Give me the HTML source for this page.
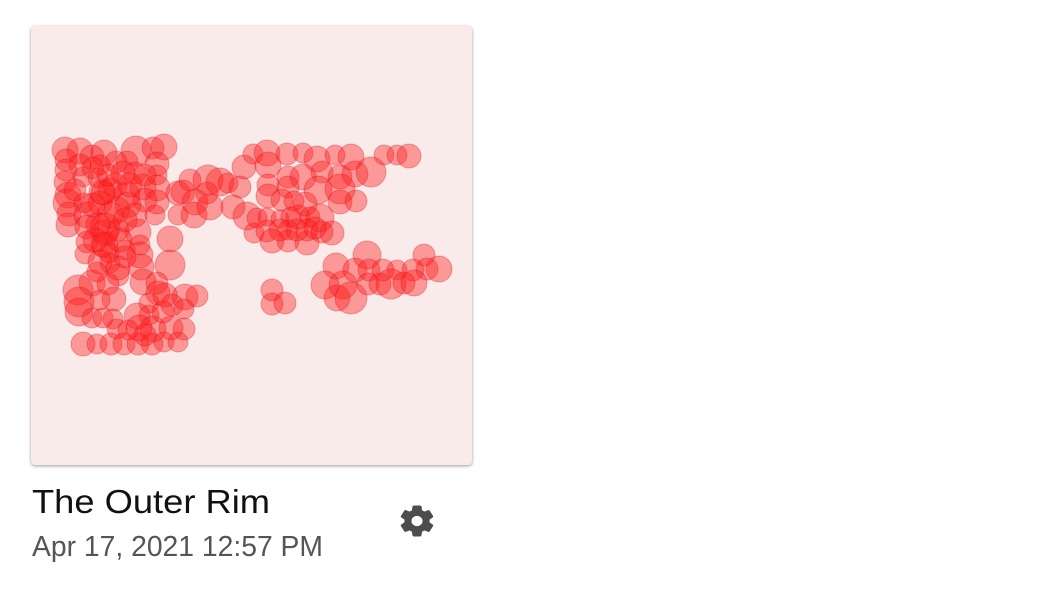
<!DOCTYPE html>
<html>
<head>
<meta charset="utf-8">
<style>
html,body{margin:0;padding:0;background:#fff;width:1056px;height:616px;overflow:hidden}
#card{position:absolute;left:31px;top:26px;width:441px;height:439px;background:#f9ebe9;border-radius:4px;box-shadow:0 1px 3px rgba(0,0,0,.4)}
#stage{position:absolute;left:0;top:0}
text{font-family:"Liberation Sans",sans-serif}
</style>
</head>
<body>
<div id="card"></div>
<svg id="stage" width="1056" height="616" viewBox="0 0 1056 616">
  <g id="bubbles"></g>
  <text x="32" y="513" font-size="33" font-weight="400" fill="#111" textLength="238" lengthAdjust="spacingAndGlyphs">The Outer Rim</text>
  <text x="32" y="556" font-size="29" fill="#555" textLength="291" lengthAdjust="spacingAndGlyphs">Apr 17, 2021 12:57 PM</text>
  <g transform="translate(417 521) scale(1.68 1.56) translate(-12 -12)">
    <path fill="#4d4d4d" stroke="#4d4d4d" stroke-width="0.6" d="M19.14 12.94c.04-.3.06-.61.06-.94 0-.32-.02-.64-.07-.94l2.03-1.58c.18-.14.23-.41.12-.61l-1.92-3.32c-.12-.22-.37-.29-.59-.22l-2.39.96c-.5-.38-1.03-.7-1.62-.94l-.36-2.54c-.04-.24-.24-.41-.48-.41h-3.84c-.24 0-.43.17-.47.41l-.36 2.54c-.59.24-1.13.57-1.62.94l-2.39-.96c-.22-.08-.47 0-.59.22L2.74 8.87c-.12.21-.08.47.12.61l2.03 1.58c-.05.3-.09.63-.09.94s.02.64.07.94l-2.03 1.58c-.18.14-.23.41-.12.61l1.92 3.32c.12.22.37.29.59.22l2.39-.96c.5.38 1.03.7 1.62.94l.36 2.54c.05.24.24.41.48.41h3.84c.24 0 .44-.17.47-.41l.36-2.54c.59-.24 1.13-.56 1.62-.94l2.39.96c.22.08.47 0 .59-.22l1.92-3.32c.12-.22.07-.47-.12-.61l-2.01-1.58zM12 15.6c-1.98 0-3.6-1.62-3.6-3.6s1.62-3.6 3.6-3.6 3.6 1.62 3.6 3.6-1.62 3.6-3.6 3.6z"/>
  </g>
</svg>
<script>
var longitudes = [34,49,61,73,105,122,133,126,126,85,96,35,35,34,37,36,38,37,52,67,71,62,92,104,96,112,126,114,126,124,53,69,86,97,56,74,56,87,107,109,56,72,94,54,78,139,147,147,159,152,164,163,177,179,176,189,197,209,202,216,213,139,79,87,109,110,112,126,127,61,77,47,48,48,83,61,72,82,118,118,106,108,122,86,140,141,154,166,153,153,52,66,80,93,107,121,133,147,222,236,256,272,286,304,320,353,366,378,237,257,272,291,309,324,340,237,257,287,309,237,251,263,274,309,325,226,236,249,260,267,279,289,223,236,257,249,241,257,276,266,276,291,301,284,336,305,393,324,338,352,366,382,396,408,294,312,306,320,337,349,360,373,383,241,241,254,74,74,69,94,62,79,72,84,99,104,94,79,67,89,64,77,114,69,44,49,87,66,132,97,134,114,69];
var latitudes = [124,125,131,127,125,122,121,138,149,136,136,134,144,156,169,177,188,199,151,152,166,142,147,147,169,161,162,174,176,189,177,177,184,179,189,202,201,204,206,219,216,219,224,228,227,213,167,189,154,166,176,189,154,181,167,156,157,161,181,190,141,239,237,249,229,241,256,257,267,257,258,264,276,286,273,292,292,293,277,289,290,302,303,303,302,279,271,270,283,303,318,318,318,318,318,318,316,316,128,127,128,127,133,129,131,129,129,130,139,151,151,146,151,148,146,159,161,164,163,170,174,175,178,176,175,192,191,193,191,191,191,192,207,205,204,204,215,215,217,204,204,206,207,202,229,240,229,244,244,244,244,244,243,243,259,259,272,272,258,258,258,257,257,264,278,277,207,219,236,231,179,164,167,159,159,189,194,189,199,214,214,149,149,139,164,139,242,246,286,304,269,309,274];
var magnitudes = [13,13,12,13,15,11,13,12,10,11,11,11,11,11,13,14,12,12,10,10,13,11,12,11,13,13,13,12,12,10,10,12,13,13,13,15,12,11,13,10,11,12,10,10,10,13,12,10,11,12,13,13,15,13,11,14,10,11,12,14,12,15,10,11,13,13,13,11,12,13,11,15,15,14,12,10,10,10,10,10,13,13,13,10,12,11,13,11,10,11,12,10,11,11,11,11,10,10,10,13,11,10,13,10,13,10,10,12,13,11,13,11,12,13,15,11,11,14,15,12,11,10,12,12,11,10,9,9,10,12,10,14,10,11,10,11,12,11,12,11,11,11,12,11,14,13,11,12,11,11,10,11,11,13,14,14,13,16,11,11,15,11,13,11,11,11,13,13,12,11,12,12,12,12,12,12,12,13,12,12,12,11,11,10,11,11,12,10,11,10,12,11,10];

var plotLeft = 31, plotTop = 26;
function xScale(v){ return plotLeft + v; }
function yScale(v){ return plotTop + v; }
function rScale(v){ return v; }

var layer = document.getElementById('bubbles');
for (var i = 0; i < longitudes.length; i++) {
  var c = document.createElementNS('http://www.w3.org/2000/svg', 'circle');
  c.setAttribute('cx', xScale(longitudes[i]));
  c.setAttribute('cy', yScale(latitudes[i]));
  c.setAttribute('r', rScale(magnitudes[i]));
  c.setAttribute('fill', 'rgba(255,30,30,0.4)');
  c.setAttribute('stroke', 'rgba(225,0,20,0.3)');
  c.setAttribute('stroke-width', '1');
  
  
  layer.appendChild(c);
}
</script>
</body>
</html>
